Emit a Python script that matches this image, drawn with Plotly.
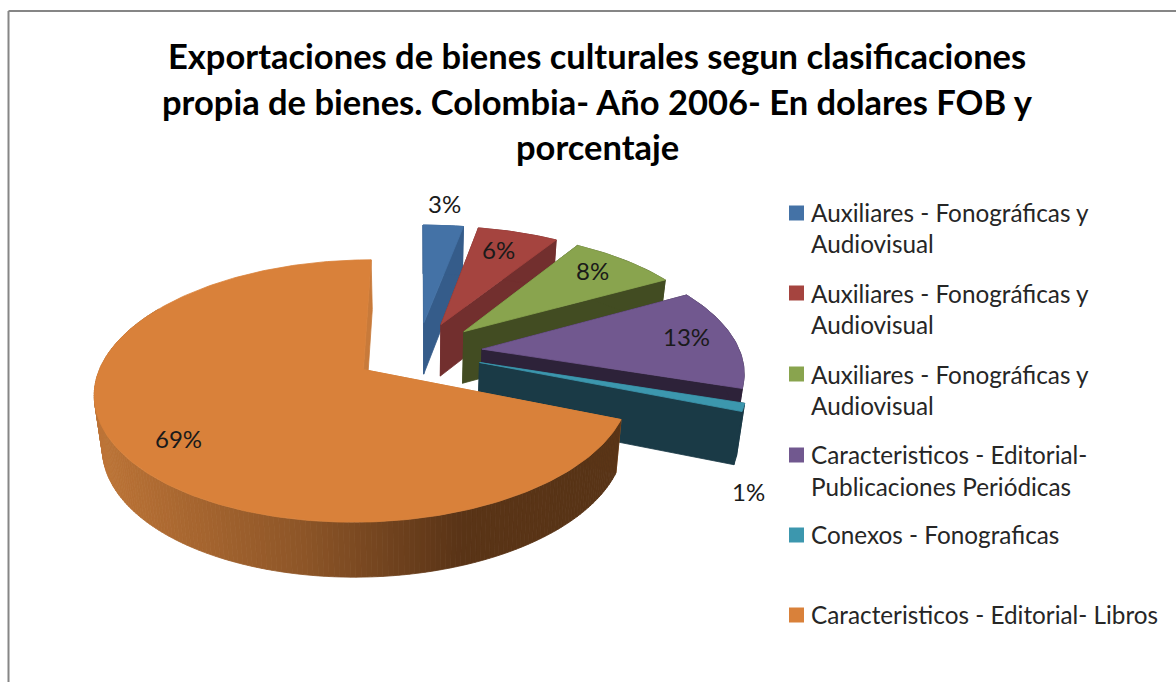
import numpy as np
import plotly.graph_objects as go

# ---- data ----
TITLE_LINES = ["Exportaciones de bienes culturales segun clasificaciones",
               "propia de bienes. Colombia- Año 2006- En dolares FOB y",
               "porcentaje"]
CATEGORIES = ["Auxiliares - Fonográficas y Audiovisual",
              "Auxiliares - Fonográficas y Audiovisual",
              "Auxiliares - Fonográficas y Audiovisual",
              "Caracteristicos - Editorial- Publicaciones Periódicas",
              "Conexos - Fonograficas",
              "Caracteristicos - Editorial- Libros"]
VALUES = [3, 6, 8, 13, 1, 69]
TOP_COLORS = ["#4472A6", "#A5443F", "#89A44E", "#71588F", "#3C97AE", "#D9813A"]
WALL_COLORS = ["#355C8A", "#722F2E", "#424C22", "#2D2239", "#1A3A46", "#583416"]

# ---- drawing constants ----
W, H = 1176, 682
CX, CY, A, B, P = 418, 352, 258, 122, 0.16
EXPLODE, DEPTH, CONVERGE = 0.25, 52, 0.975
FONT = "Lato"
LABEL_POS = [(444, 203), (498, 249), (592, 270), (686, 336), (748, 491), (178, 438)]
LEGEND_ROWS = [[(212, "Auxiliares - Fonográficas y"), (243, "Audiovisual")],
               [(293, "Auxiliares - Fonográficas y"), (324, "Audiovisual")],
               [(374, "Auxiliares - Fonográficas y"), (405, "Audiovisual")],
               [(454, "Caracteristicos - Editorial-"), (486, "Publicaciones Periódicas")],
               [(534, "Conexos - Fonograficas")],
               [(614, "Caracteristicos - Editorial- Libros")]]
LEGEND_SWATCH_Y = [213, 293, 374, 455, 535, 615]
GRAD = [(100, (188, 116, 55)), (300, (142, 86, 40)), (460, (90, 52, 23)), (640, (88, 52, 22))]
WALL_END_DEG = 300  # the orange rim behind this angle is never seen


def project(u, v, low=False):
    u, v = np.asarray(u, float), np.asarray(v, float)
    w = 1 + P * v
    x, y = A * u / w, -B * v / w
    if low:
        x = x * CONVERGE
        y = y + DEPTH * (1 - 0.05 * v)
    return CX + x, CY + y


def poly(fig, x, y, color):
    fig.add_trace(go.Scatter(x=list(x), y=list(y), mode="lines", fill="toself",
                             fillcolor=color, line=dict(color=color, width=0.8),
                             hoverinfo="skip", showlegend=False))


def grad_color(xp):
    xs = [g[0] for g in GRAD]
    rgb = [np.interp(xp, xs, [g[1][i] for g in GRAD]) for i in range(3)]
    return "rgb(%d,%d,%d)" % tuple(rgb)


fig = go.Figure()
fractions = np.array(VALUES, float) / sum(VALUES)
edges = np.concatenate([[0], np.cumsum(fractions)]) * 2 * np.pi

for i in range(len(VALUES)):
    t0, t1 = edges[i], edges[i + 1]
    mid = (t0 + t1) / 2
    ou, ov = EXPLODE * np.sin(mid), EXPLODE * np.cos(mid)
    ts = np.linspace(t0, t1, max(4, int((t1 - t0) / np.radians(1)) + 1))
    au, av = ou + np.sin(ts), ov + np.cos(ts)
    last = i == len(VALUES) - 1

    # cut faces
    for t in (t0, t1):
        eu, ev = ou + np.sin(t), ov + np.cos(t)
        x1, y1 = project([ou, eu], [ov, ev])
        x2, y2 = project([eu, ou], [ev, ov], low=True)
        poly(fig, np.r_[x1, x2, x1[0]], np.r_[y1, y2, y1[0]],
             "#C87A3A" if last else WALL_COLORS[i])

    # outer wall
    xt, yt = project(au, av)
    xb, yb = project(au, av, low=True)
    if last:
        for k in range(len(ts) - 1):
            if np.degrees(ts[k]) > WALL_END_DEG:
                break
            c = grad_color((xt[k] + xt[k + 1]) / 2)
            poly(fig, [xt[k], xt[k + 1], xb[k + 1], xb[k], xt[k]],
                 [yt[k], yt[k + 1], yb[k + 1], yb[k], yt[k]], c)
    else:
        poly(fig, np.r_[xt, xb[::-1], xt[0]], np.r_[yt, yb[::-1], yt[0]], WALL_COLORS[i])

    # top face
    ax, ay = project(ou, ov)
    poly(fig, np.r_[ax, xt, ax], np.r_[ay, yt, ay], TOP_COLORS[i])

# legend swatches
fig.add_trace(go.Scatter(x=[796.5] * len(VALUES), y=LEGEND_SWATCH_Y, mode="markers",
                         marker=dict(symbol="square", size=15, color=TOP_COLORS, line=dict(width=0)),
                         hoverinfo="skip", showlegend=False))

ann = []
for ln, y in zip(TITLE_LINES, [55, 101, 146]):
    ann.append(dict(x=597, y=y, text="<b>%s</b>" % ln, font=dict(size=34.5, color="#000000", family=FONT),
                    xanchor="center", yanchor="middle", showarrow=False))
for v, (x, y) in zip(VALUES, LABEL_POS):
    ann.append(dict(x=x, y=y, text="%d%%" % v, font=dict(size=24, color="#1a1a1a", family=FONT),
                    xanchor="center", yanchor="middle", showarrow=False))
for rows in LEGEND_ROWS:
    for y, txt in rows:
        ann.append(dict(x=809, y=y, text=txt, font=dict(size=24.3, color="#262626", family=FONT),
                        xanchor="left", yanchor="middle", showarrow=False))
for a in ann:
    a.update(xref="x", yref="y")

shapes = [dict(type="line", xref="x", yref="y", x0=8.5, y0=11, x1=W, y1=11, line=dict(color="#868686", width=2)),
          dict(type="line", xref="x", yref="y", x0=8.5, y0=11, x1=8.5, y1=H, line=dict(color="#868686", width=2))]

fig.update_layout(width=W, height=H, margin=dict(l=0, r=0, t=0, b=0),
                  paper_bgcolor="white", plot_bgcolor="white", showlegend=False,
                  xaxis=dict(range=[0, W], visible=False, fixedrange=True),
                  yaxis=dict(range=[H, 0], visible=False, fixedrange=True),
                  annotations=ann, shapes=shapes, hovermode=False)
fig.write_html("out.html", config=dict(displayModeBar=False),
               post_script="document.body.style.margin='0';document.documentElement.style.overflow='hidden';")
